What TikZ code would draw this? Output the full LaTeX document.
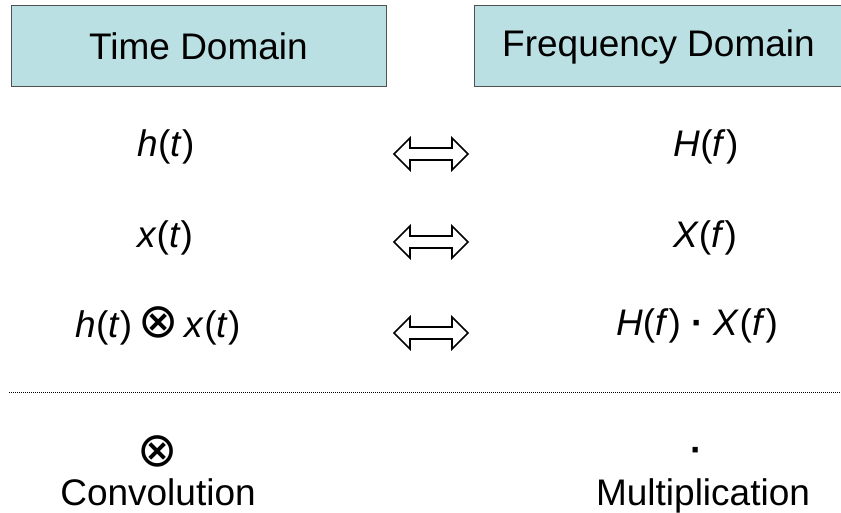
\documentclass[tikz,border=0pt]{standalone}
\usepackage{fontspec}
\setmainfont{Liberation Sans}
\newfontfamily\symfont{DejaVu Sans}
\newcommand{\otimesglyph}{{\symfont\fontsize{48}{48}\selectfont ⊗}}
\definecolor{headfill}{RGB}{187,224,227}
\definecolor{headline}{RGB}{80,80,80}
\begin{document}
\begin{tikzpicture}[x=1pt,y=-1pt,
  big/.style={font=\fontsize{37}{44}\selectfont, inner sep=0pt, anchor=center},
  header/.style={big, draw=headline, fill=headfill, line width=1pt, minimum height=81pt},
  dblarrow/.pic={
    \draw[line width=1.6pt, fill=white, line join=miter]
      (-37,0) -- (-21,-16) -- (-21,-6) -- (21,-6) -- (21,-16) -- (37,0)
      -- (21,16) -- (21,6) -- (-21,6) -- (-21,16) -- cycle;
  }
]
\useasboundingbox (0,0) rectangle (841,513);
% headers
\node[header, minimum width=375pt] (timehead) at (198.5,46.5) {Time Domain};
\node[header, minimum width=368pt] (freqhead) at (658.5,46.5) {Frequency Domain};
% rows
\node[big] (ht) at (166,147) {\textit{h}(\textit{t})};
\node[big] (xt) at (165,238) {\textit{x}(\textit{t})};
\node[big] (conv) at (158,326) {\textit{h}(\textit{t})\,\otimesglyph\,\textit{x}(\textit{t})};
\node[big] (Hf) at (706,147) {\textit{H}(\textit{f})};
\node[big] (Xf) at (705,238) {\textit{X}(\textit{f})};
\node[big] (prod) at (697,326) {\textit{H}(\textit{f}) {\bfseries·} \textit{X}(\textit{f})};
% arrows
\coordinate (a1) at (431,154);
\coordinate (a2) at (431,242);
\coordinate (a3) at (431,333);
\pic at (a1) {dblarrow};
\pic at (a2) {dblarrow};
\pic at (a3) {dblarrow};
% separator
\coordinate (sepL) at (9,392);
\coordinate (sepR) at (841,392);
\draw[line width=1pt, dash pattern=on 1pt off 1pt] (sepL) -- (sepR);
% legend
\node[big] (convsym) at (158,451) {\otimesglyph};
\node[big, anchor=base] (convtxt) at (158,505) {Convolution};
\node[big, anchor=base] (dotsym) at (697,462) {\bfseries·};
\node[big, anchor=base] (multxt) at (703,505) {Multiplication};
\end{tikzpicture}
\end{document}
